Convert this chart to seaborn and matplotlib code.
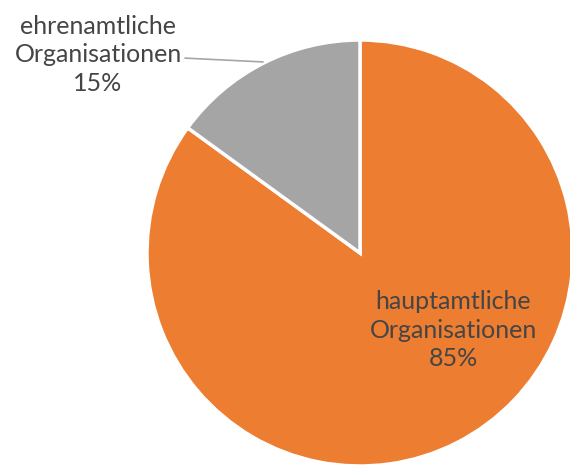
import matplotlib
matplotlib.use("Agg")
import matplotlib.pyplot as plt
import seaborn as sns

# Daten
labels = ["hauptamtliche\nOrganisationen", "ehrenamtliche\nOrganisationen"]
shares = [85, 15]
colors = ["#ED7D31", "#A5A5A5"]

sns.set_theme(style="white")
plt.rcParams['font.family'] = ['Lato', 'DejaVu Sans']

fig = plt.figure(figsize=(5.70, 4.67), dpi=100)
ax = fig.add_axes([147 / 570, 1 / 467, 426 / 570, 426 / 467])

wedges, _ = ax.pie(shares, colors=colors, startangle=90, counterclock=False,
                   radius=1, wedgeprops=dict(edgecolor="white", linewidth=2.5))
for w in wedges:
    w.set_clip_on(False)
ax.set_aspect("auto")
ax.set_xlim(-1, 1)
ax.set_ylim(-1, 1)
ax.axis("off")

txt_color = "#454545"
# Beschriftung innen (hauptamtlich)
ax.text(0.437, -0.362, f"{labels[0]}\n{shares[0]}%", ha="center", va="center",
        fontsize=18, color=txt_color, linespacing=1.3)

# Beschriftung aussen (ehrenamtlich) mit Führungslinie
ax.text(-1.23, 0.93, f"{labels[1]}\n{shares[1]}%", ha="center", va="center",
        fontsize=18, color=txt_color, linespacing=1.3, clip_on=False)
ax.plot([-0.822, -0.455], [0.915, 0.897], color="#A6A6A6", lw=1.2, clip_on=False)

fig.savefig("out.png", dpi=100)
